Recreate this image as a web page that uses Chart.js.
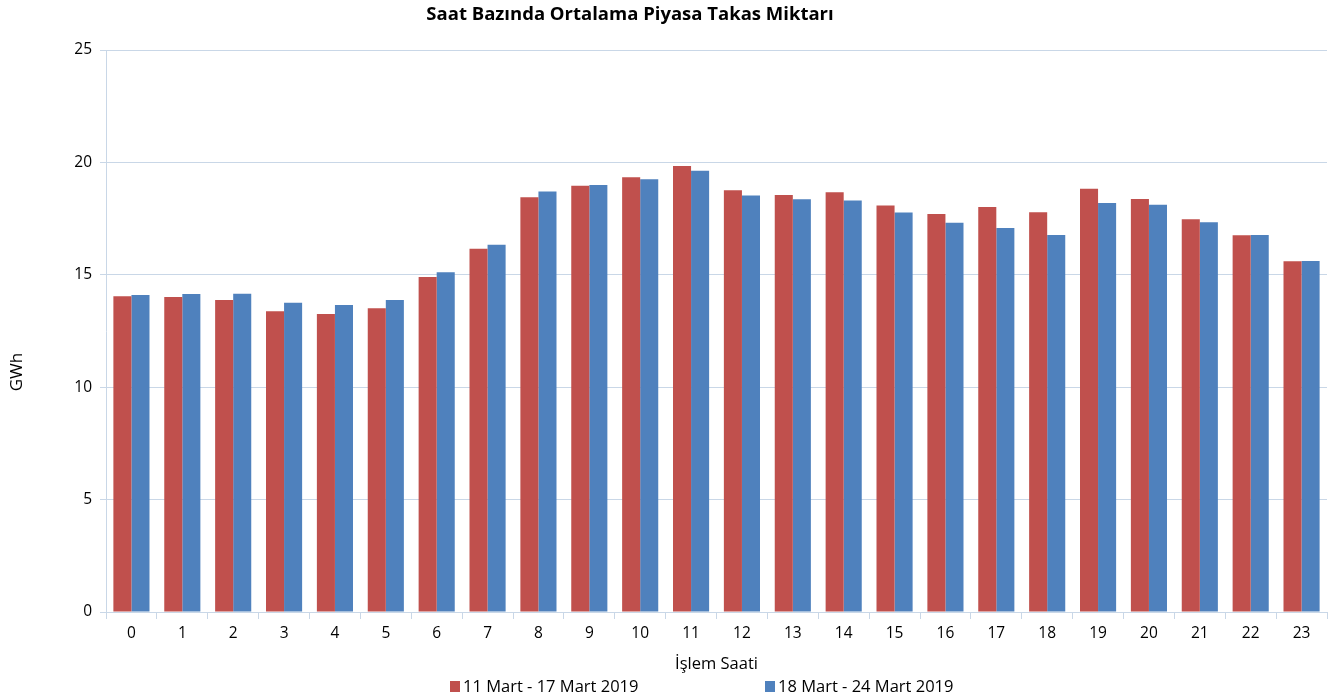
<!DOCTYPE html>
<html>
<head>
<meta charset="utf-8">
<script src="https://cdn.jsdelivr.net/npm/chart.js@4"></script>
<style>
  html, body { margin: 0; padding: 0; background: #fff; }
  #wrap { width: 1330px; height: 698px; }
</style>
</head>
<body>
<div id="wrap"><canvas id="chart" width="1330" height="698"></canvas></div>
<script>
const hours = ["0","1","2","3","4","5","6","7","8","9","10","11","12","13","14","15","16","17","18","19","20","21","22","23"];

const week1 = [14.05, 14.01, 13.88, 13.38, 13.26, 13.51, 14.9, 16.16, 18.45, 18.96, 19.34, 19.84,
  18.76, 18.55, 18.67, 18.08, 17.7, 18.02, 17.78, 18.83, 18.37, 17.47, 16.76, 15.6];
const week2 = [14.1, 14.15, 14.16, 13.76, 13.66, 13.88, 15.11, 16.34, 18.7, 18.99, 19.25, 19.63,
  18.53, 18.36, 18.31, 17.77, 17.32, 17.08, 16.77, 18.19, 18.12, 17.34, 16.77, 15.61];

const seriesNames = ["11 Mart - 17 Mart 2019", "18 Mart - 24 Mart 2019"];
const yTicks = [0, 5, 10, 15, 20, 25];

const RED = "#C0504D";
const BLUE = "#4F81BD";
const GRID = "#C9D7E7";
const FONT = "'Open Sans', Lato, sans-serif";

// title, y title and legend drawn by hand so they sit where the original has them
const extras = {
  id: "extras",
  afterDraw(chart) {
    const ctx = chart.ctx;
    ctx.save();
    ctx.fillStyle = "#000";
    ctx.font = "bold 18.5px " + FONT;
    ctx.textAlign = "center";
    ctx.textBaseline = "middle";
    ctx.fillText("Saat Bazında Ortalama Piyasa Takas Miktarı", 630, 15);

    // y axis title, rotated
    ctx.save();
    ctx.translate(17, 372);
    ctx.rotate(-Math.PI / 2);
    ctx.font = "17px " + FONT;
    ctx.fillText("GWh", 0, 0);
    ctx.restore();

    ctx.font = "16.5px " + FONT;
    ctx.textAlign = "left";
    const items = [
      { x: 450, color: RED, text: seriesNames[0] },
      { x: 765, color: BLUE, text: seriesNames[1] }
    ];
    items.forEach((it) => {
      ctx.fillStyle = it.color;
      ctx.fillRect(it.x, 681, 10, 11);
      ctx.fillStyle = "#000";
      ctx.fillText(it.text, it.x + 13, 687);
    });
    ctx.restore();
  }
};

new Chart(document.getElementById("chart"), {
  type: "bar",
  data: {
    labels: hours,
    datasets: [
      { label: seriesNames[0], data: week1, backgroundColor: RED, borderWidth: 0 },
      { label: seriesNames[1], data: week2, backgroundColor: BLUE, borderWidth: 0 }
    ]
  },
  options: {
    responsive: false,
    animation: false,
    categoryPercentage: 0.71,
    barPercentage: 1.0,
    layout: { padding: { left: 0, right: 3, top: 50, bottom: 24 } },
    plugins: {
      legend: { display: false },
      title: { display: false },
      tooltip: { enabled: false }
    },
    scales: {
      x: {
        grid: {
          offset: true,
          drawOnChartArea: false,
          drawTicks: true,
          tickLength: 7,
          color: GRID
        },
        border: { color: GRID },
        ticks: { color: "#000", font: { family: FONT, size: 15.5 }, padding: 5 },
        title: {
          display: true,
          text: "İşlem Saati",
          color: "#000",
          font: { family: FONT, size: 16.5 },
          padding: { top: 4, bottom: 0 }
        },
        afterFit(scale) { scale.height = 62; }
      },
      y: {
        min: 0,
        max: 25,
        afterBuildTicks(scale) { scale.ticks = yTicks.map((v) => ({ value: v })); },
        grid: { color: GRID, tickLength: 6 },
        border: { color: GRID },
        ticks: { color: "#000", font: { family: FONT, size: 15.5 }, padding: 8 },
        afterFit(scale) { scale.width = 106; }
      }
    }
  },
  plugins: [extras]
});
</script>
</body>
</html>
